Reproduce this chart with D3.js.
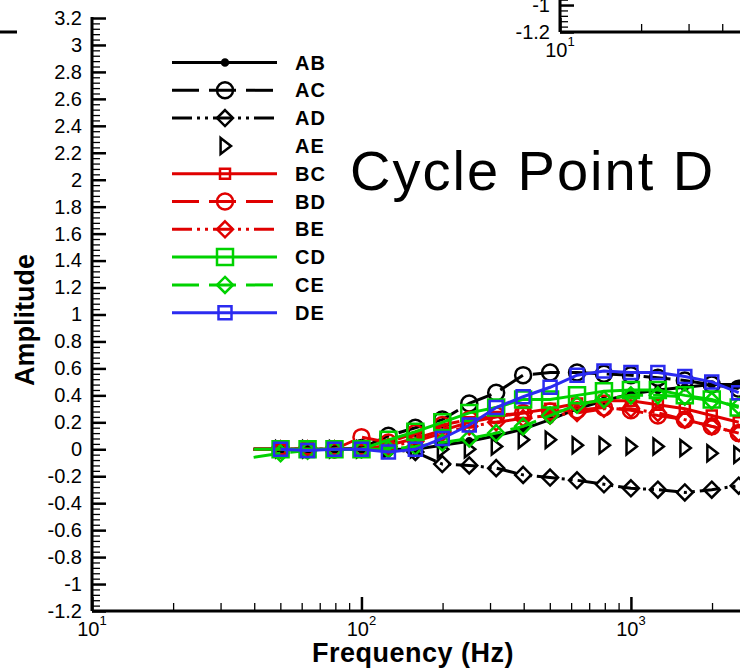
<!DOCTYPE html>
<html>
<head>
<meta charset="utf-8">
<script src="https://cdn.jsdelivr.net/npm/d3@7"></script>
<style>
  html, body { margin: 0; padding: 0; background: #fff; }
  svg { display: block; }
</style>
</head>
<body>
<div id="chart"></div>
<script>
'use strict';

// sample frequencies (Hz)
var freq = [39.8, 50.1, 63.1, 79.4, 100, 125.9, 158.5, 199.5, 251.2, 316.2, 398.1, 501.2, 631, 794.3, 1000, 1258.9, 1584.9, 1995.3, 2511.9];

// amplitude per pair
var ab = [0, 0, 0, 0, 0, 0, 0, 0.03, 0.06, 0.1, 0.15, 0.22, 0.3, 0.36, 0.41, 0.44, 0.46, 0.48, 0.48];
var ac = [0, 0, 0, 0, 0.01, 0.1, 0.16, 0.22, 0.34, 0.42, 0.55, 0.57, 0.57, 0.56, 0.55, 0.53, 0.51, 0.48, 0.45];
var ad = [0, 0, 0, 0, 0, 0, -0.02, -0.11, -0.12, -0.14, -0.19, -0.21, -0.23, -0.26, -0.29, -0.3, -0.32, -0.3, -0.27];
var ae = [0, 0, 0, 0, 0, 0, 0, 0, 0, 0.02, 0.07, 0.07, 0.03, 0.03, 0.02, 0.02, 0.01, -0.03, -0.04];
var bc = [0, 0, 0, 0, 0, 0.03, 0.08, 0.14, 0.2, 0.24, 0.27, 0.3, 0.34, 0.36, 0.36, 0.33, 0.3, 0.25, 0.2];
var bd = [0, 0, 0, 0, 0.09, 0.05, 0.12, 0.18, 0.22, 0.25, 0.27, 0.28, 0.29, 0.31, 0.29, 0.25, 0.22, 0.17, 0.12];
var be = [0, 0, 0, 0, 0, 0.02, 0.06, 0.12, 0.17, 0.2, 0.23, 0.25, 0.27, 0.3, 0.3, 0.27, 0.22, 0.17, 0.12];
var cd = [0, 0, 0, 0, 0, 0.07, 0.13, 0.2, 0.27, 0.31, 0.37, 0.37, 0.4, 0.43, 0.44, 0.44, 0.4, 0.37, 0.31];
var ce = [-0.06, -0.03, -0.01, 0, 0, 0, 0.02, 0.05, 0.08, 0.12, 0.17, 0.25, 0.33, 0.37, 0.4, 0.4, 0.39, 0.36, 0.32];
var de = [null, 0, -0.01, 0, 0, -0.02, 0, 0.08, 0.18, 0.31, 0.39, 0.46, 0.55, 0.58, 0.57, 0.57, 0.54, 0.5, 0.42];

var seriesNames = ['AB', 'AC', 'AD', 'AE', 'BC', 'BD', 'BE', 'CD', 'CE', 'DE'];
var seriesValues = [ab, ac, ad, ae, bc, bd, be, cd, ce, de];

// tick labels
var yTickValues = [-1.2, -1, -0.8, -0.6, -0.4, -0.2, 0, 0.2, 0.4, 0.6, 0.8, 1, 1.2, 1.4, 1.6, 1.8, 2, 2.2, 2.4, 2.6, 2.8, 3, 3.2];
var xTickValues = [10, 100, 1000];
var xTickExponents = ['1', '2', '3'];

//constants
var width = 740,
  height = 668,
  red = '#e00000',
  green = '#00d200',
  blue = '#2b2bf0',
  font = 'Arial, "Liberation Sans", sans-serif';

var styles = {
  AB: { color: '#000', dash: null, line: true, marker: 'dot', size: 3 },
  AC: { color: '#000', dash: '27,10', line: true, marker: 'circle', size: 8 },
  AD: { color: '#000', dash: '20,5,3,5,3,5', line: true, marker: 'diamond', size: 8 },
  AE: { color: '#000', dash: null, line: false, marker: 'triangle', size: 8 },
  BC: { color: red, dash: null, line: true, marker: 'square', size: 5 },
  BD: { color: red, dash: '27,10', line: true, marker: 'circle', size: 8 },
  BE: { color: red, dash: '20,5,3,5,3,5', line: true, marker: 'diamond', size: 8 },
  CD: { color: green, dash: null, line: true, marker: 'square', size: 8 },
  CE: { color: green, dash: '27,10', line: true, marker: 'diamond', size: 8 },
  DE: { color: blue, dash: null, line: true, marker: 'square', size: 6.5 }
};

var x = d3.scaleLog().domain([10, 2540]).range([92, 740]);
var y = d3.scaleLinear().domain([-1.2, 3.2]).range([611, 18]);

var svg = d3.select('#chart')
  .append('svg')
    .attr('width', width)
    .attr('height', height)
    .style('background', '#fff');

function fmt(d) {
  return String(+d.toFixed(1));
}

function markerPath(type, s) {
  var p = d3.path();
  if (type === 'circle' || type === 'dot') {
    p.arc(0, 0, s, 0, 2 * Math.PI);
  } else if (type === 'square') {
    p.rect(-s, -s, 2 * s, 2 * s);
  } else if (type === 'diamond') {
    p.moveTo(0, -s); p.lineTo(s, 0); p.lineTo(0, s); p.lineTo(-s, 0); p.closePath();
  } else if (type === 'triangle') {
    p.moveTo(-s * 0.55, -s); p.lineTo(s * 0.75, 0); p.lineTo(-s * 0.55, s); p.closePath();
  }
  return p.toString();
}

// axes frame, reused for the neighbouring panels that show at the edges
function drawFrame(g) {
  var x0 = x.range()[0], x1 = x.range()[1],
    yBottom = y.range()[0], yTop = y.range()[1];

  var yMinor = d3.range(-1.2, 3.2001, 0.04).filter(function (d) {
    return Math.abs(d * 5 - Math.round(d * 5)) > 1e-6;
  });

  g.append('g')
      .attr('transform', 'translate(' + x0 + ',0)')
      .call(d3.axisLeft(y).tickValues(yMinor).tickSize(-8).tickFormat(''))
      .call(function (a) { a.select('.domain').remove(); })
      .selectAll('line').attr('stroke-width', 1.3);

  var yAxis = g.append('g')
      .attr('transform', 'translate(' + x0 + ',0)')
      .call(d3.axisLeft(y).tickValues(yTickValues).tickSizeInner(-14).tickSizeOuter(0).tickPadding(10).tickFormat(fmt));
  yAxis.select('.domain').remove();
  yAxis.selectAll('line').attr('stroke-width', 2.5);
  yAxis.selectAll('text')
      .attr('font-family', font)
      .attr('font-size', 20)
      .attr('fill', '#000');

  var xMinor = x.ticks().filter(function (d) {
    return Math.abs(Math.log10(d) - Math.round(Math.log10(d))) > 1e-6;
  });

  g.append('g')
      .attr('transform', 'translate(0,' + yBottom + ')')
      .call(d3.axisBottom(x).tickValues(xMinor).tickSize(-8).tickFormat(''))
      .call(function (a) { a.select('.domain').remove(); })
      .selectAll('line').attr('stroke-width', 1.3);

  g.append('g')
      .attr('transform', 'translate(0,' + yBottom + ')')
      .call(d3.axisBottom(x).tickValues(xTickValues).tickSize(-14).tickFormat(''))
      .call(function (a) { a.select('.domain').remove(); })
      .selectAll('line').attr('stroke-width', 2.5);

  var xl = g.append('g').selectAll('text')
      .data(xTickValues)
      .enter()
      .append('text')
        .attr('x', function (d) { return x(d); })
        .attr('y', yBottom + 25)
        .attr('text-anchor', 'middle')
        .attr('font-family', font)
        .attr('font-size', 20)
        .text('10');
  xl.append('tspan')
      .attr('dy', -11)
      .attr('font-size', 13)
      .text(function (d, i) { return xTickExponents[i]; });

  g.append('line')
      .attr('x1', x0).attr('x2', x0)
      .attr('y1', yTop - 1).attr('y2', yBottom)
      .attr('stroke', '#000')
      .attr('stroke-width', 3);

  g.append('line')
      .attr('x1', x0).attr('x2', x1)
      .attr('y1', yBottom).attr('y2', yBottom)
      .attr('stroke', '#000')
      .attr('stroke-width', 3);
}

//neighbour panels cut off at the top
drawFrame(svg.append('g').attr('transform', 'translate(-723,-579)'));
drawFrame(svg.append('g').attr('transform', 'translate(468,-579)'));

//main panel
drawFrame(svg.append('g'));

var line = d3.line()
  .defined(function (d) { return d[1] !== null; })
  .x(function (d) { return x(d[0]); })
  .y(function (d) { return y(d[1]); });

var plot = svg.append('g');

seriesNames.forEach(function (name, k) {
  var st = styles[name],
    pts = freq.map(function (f, i) { return [f, seriesValues[k][i]]; });

  if (st.line) {
    plot.append('path')
        .attr('d', line(pts))
        .attr('fill', 'none')
        .attr('stroke', st.color)
        .attr('stroke-width', 3)
        .attr('stroke-dasharray', st.dash);
  }

  // no symbol on the first sample
  plot.append('g').selectAll('path')
      .data(pts.slice(1).filter(function (d) { return d[1] !== null; }))
      .enter()
      .append('path')
        .attr('transform', function (d) { return 'translate(' + x(d[0]) + ',' + y(d[1]) + ')'; })
        .attr('d', markerPath(st.marker, st.size))
        .attr('fill', st.marker === 'dot' ? st.color : 'none')
        .attr('stroke', st.color)
        .attr('stroke-width', 2.5);
});

//legend
var legend = svg.append('g')
    .selectAll('g')
    .data(seriesNames)
    .enter()
    .append('g')
      .attr('transform', function (d, i) { return 'translate(0,' + (62.5 + i * 27.8) + ')'; });

legend.filter(function (d) { return styles[d].line; })
  .append('line')
    .attr('x1', 172).attr('x2', 277)
    .attr('stroke', function (d) { return styles[d].color; })
    .attr('stroke-width', 3)
    .attr('stroke-dasharray', function (d) { return styles[d].dash; });

legend.append('path')
    .attr('transform', 'translate(225,0)')
    .attr('d', function (d) { return markerPath(styles[d].marker, styles[d].size); })
    .attr('fill', function (d) { return styles[d].marker === 'dot' ? styles[d].color : 'none'; })
    .attr('stroke', function (d) { return styles[d].color; })
    .attr('stroke-width', 2.5);

legend.append('text')
    .attr('x', 295)
    .attr('y', 7)
    .attr('font-family', font)
    .attr('font-weight', 'bold')
    .attr('font-size', 20)
    .attr('letter-spacing', 1)
    .text(function (d) { return d; });

//titles
svg.append('text')
    .attr('x', 350)
    .attr('y', 190)
    .attr('font-family', font)
    .attr('font-size', 56)
    .attr('letter-spacing', 2)
    .text('Cycle Point D');

svg.append('text')
    .attr('x', 413)
    .attr('y', 662)
    .attr('text-anchor', 'middle')
    .attr('font-family', font)
    .attr('font-weight', 'bold')
    .attr('font-size', 27)
    .attr('letter-spacing', 0.5)
    .text('Frequency (Hz)');

svg.append('text')
    .attr('transform', 'translate(34,320) rotate(-90)')
    .attr('text-anchor', 'middle')
    .attr('font-family', font)
    .attr('font-weight', 'bold')
    .attr('font-size', 27)
    .text('Amplitude');
</script>
</body>
</html>
